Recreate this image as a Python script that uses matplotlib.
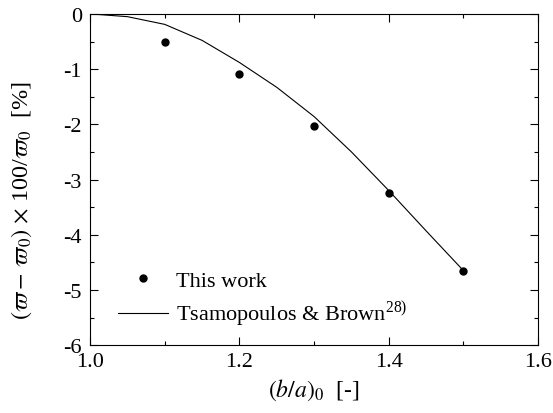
import matplotlib
matplotlib.use("Agg")
import matplotlib.pyplot as plt
from matplotlib.ticker import MultipleLocator

plt.rcParams['font.family'] = ['Liberation Serif', 'DejaVu Serif']
plt.rcParams['mathtext.fontset'] = 'stix'

# measured points
ba_pts = [1.1, 1.2, 1.3, 1.4, 1.5]
dw_pts = [-0.51, -1.09, -2.03, -3.24, -4.65]

# reference curve (Tsamopoulos & Brown)
ba_ref = [1.0, 1.05, 1.1, 1.15, 1.2, 1.25, 1.3, 1.35, 1.4, 1.45, 1.5]
dw_ref = [0.0, -0.05, -0.19, -0.48, -0.88, -1.33, -1.86, -2.50, -3.20, -3.93, -4.65]

fig = plt.figure(figsize=(5.53, 4.14), dpi=100)
ax = fig.add_axes([0.163, 0.164, 0.81, 0.8])

ax.plot(ba_pts, dw_pts, 'o', color='black', markersize=5, label='This work')
ax.plot(ba_ref, dw_ref, '-', color='black', linewidth=0.8,
        label='Tsamopoulos & Brown$^{\\mathregular{28)}}$')

ax.set_xlim(1.0, 1.6)
ax.set_ylim(-6, 0)
ax.xaxis.set_major_locator(MultipleLocator(0.2))
ax.xaxis.set_minor_locator(MultipleLocator(0.1))
ax.yaxis.set_major_locator(MultipleLocator(1))
ax.yaxis.set_minor_locator(MultipleLocator(0.5))
ax.set_xticklabels(['%.1f' % v for v in ax.get_xticks()])
ax.set_yticklabels(['%d' % v for v in ax.get_yticks()])
ax.tick_params(which='both', direction='in', top=True, right=True, labelsize=16)
ax.tick_params(which='major', length=6, width=0.8)
ax.tick_params(which='minor', length=3, width=0.8)
ax.tick_params(axis='x', pad=5)
ax.tick_params(axis='y', pad=6)

ax.set_xlabel('$(b/a)_0$  [-]', fontsize=17, labelpad=4)
ax.set_ylabel('$(\\varpi -\\, \\varpi_0)$ $\\times$ 100/$\\varpi_0$  [%]', fontsize=17.5)
ax.yaxis.set_label_coords(-0.125, 0.44)

ax.legend(loc='upper left', bbox_to_anchor=(118 / 553, 1 - 271 / 414),
          bbox_transform=fig.transFigure, frameon=False, borderpad=0,
          borderaxespad=0, fontsize=16, handlelength=2.25,
          handletextpad=0.36, labelspacing=0.4)

plt.savefig('out.png', dpi=100)
